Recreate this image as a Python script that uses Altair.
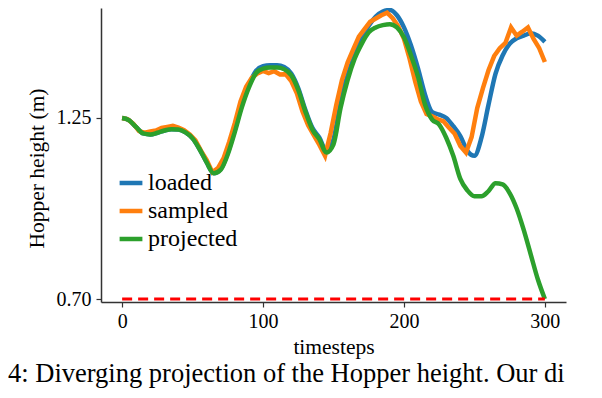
import altair as alt
import pandas as pd

# ---- data ----
T5 = list(range(0, 301, 5))
loaded = [1.250, 1.243, 1.222, 1.203, 1.200, 1.205, 1.212, 1.216, 1.215, 1.206,
          1.188, 1.155, 1.115, 1.082, 1.095, 1.145, 1.215, 1.290, 1.350, 1.393,
          1.407, 1.410, 1.410, 1.405, 1.385, 1.340, 1.275, 1.220, 1.190, 1.150,
          1.185, 1.300, 1.380, 1.440, 1.490, 1.530, 1.558, 1.573, 1.578, 1.562,
          1.525, 1.470, 1.400, 1.320, 1.268, 1.260, 1.250, 1.225, 1.195, 1.150,
          1.135, 1.190, 1.290, 1.385, 1.440, 1.475, 1.492, 1.500, 1.507, 1.500,
          1.481]
projected = [1.250, 1.243, 1.222, 1.203, 1.200, 1.205, 1.212, 1.216, 1.215, 1.206,
             1.188, 1.155, 1.115, 1.082, 1.093, 1.140, 1.208, 1.283, 1.343, 1.386,
             1.400, 1.403, 1.403, 1.398, 1.380, 1.335, 1.270, 1.215, 1.185, 1.145,
             1.170, 1.280, 1.365, 1.430, 1.475, 1.510, 1.525, 1.532, 1.535, 1.525,
             1.495, 1.440, 1.375, 1.290, 1.245, 1.230, 1.190, 1.135, 1.065, 1.030,
             1.012, 1.012, 1.028, 1.052, 1.048, 1.022, 0.975, 0.910, 0.835, 0.760,
             0.700]
T4 = list(range(0, 301, 4))
sampled = [1.250, 1.246, 1.232, 1.210, 1.205, 1.209, 1.212, 1.220, 1.223, 1.226,
           1.221, 1.213, 1.200, 1.182, 1.150, 1.122, 1.085, 1.098, 1.128, 1.178,
           1.235, 1.300, 1.345, 1.372, 1.385, 1.393, 1.386, 1.392, 1.382, 1.383,
           1.362, 1.325, 1.270, 1.228, 1.198, 1.168, 1.135, 1.205, 1.290, 1.365,
           1.418, 1.458, 1.497, 1.520, 1.542, 1.552, 1.562, 1.570, 1.553, 1.528,
           1.490, 1.430, 1.360, 1.300, 1.262, 1.255, 1.246, 1.240, 1.220, 1.202,
           1.165, 1.145, 1.192, 1.280, 1.340, 1.395, 1.438, 1.462, 1.478, 1.525,
           1.500, 1.512, 1.525, 1.490, 1.462, 1.420]
series_names = ["loaded", "sampled", "projected"]
series_colors = ["#1f77b4", "#ff7f0e", "#2ca02c"]
limit_value = 0.70
limit_span = [0, 300]
y_ticks = [0.70, 1.25]
x_ticks = [0, 100, 200, 300]
caption = "4: Diverging projection of the Hopper height. Our di"

FONT = "Liberation Serif"

df_l = pd.DataFrame({"t": T5, "v": loaded, "series": "loaded"})
df_p = pd.DataFrame({"t": T5, "v": projected, "series": "projected"})
df_s = pd.DataFrame({"t": T4[:len(sampled)], "v": sampled, "series": "sampled"})
df_lim = pd.DataFrame({"t0": [limit_span[0]], "t1": [limit_span[1]], "v": [limit_value]})

xs = alt.Scale(domain=[-15, 315], nice=False, zero=False)
ys = alt.Scale(domain=[0.691, 1.584], nice=False, zero=False)
cs = alt.Scale(domain=series_names, range=series_colors)

xax = alt.Axis(values=x_ticks, title="timesteps", grid=False, tickSize=5,
               labelPadding=4, titleBaseline="alphabetic", titleY=51,
               titleFontWeight="normal")
yax = alt.Axis(values=y_ticks, format=".2f", title="Hopper height (m)", grid=False,
               tickSize=5, labelPadding=5, titleBaseline="alphabetic",
               titleX=-58, titleY=160, titleFontWeight="normal")
leg = alt.Legend(orient="none", legendX=16, legendY=161, title=None,
                 symbolType="stroke", symbolStrokeWidth=4.5, symbolSize=520,
                 labelFont=FONT, labelFontSize=24, labelColor="black",
                 rowPadding=2, labelOffset=3)


def line(df, interp):
    return alt.Chart(df).mark_line(strokeWidth=4.5, interpolate=interp, clip=False).encode(
        x=alt.X("t:Q", scale=xs, axis=xax),
        y=alt.Y("v:Q", scale=ys, axis=yax),
        color=alt.Color("series:N", scale=cs, legend=leg),
    )


limit = alt.Chart(df_lim).mark_rule(color="#ff0000", strokeWidth=3, strokeDash=[10, 6]).encode(
    x=alt.X("t0:Q", scale=xs), x2="t1:Q", y=alt.Y("v:Q", scale=ys)
)

cap = alt.Chart(pd.DataFrame({"text": [caption]})).mark_text(
    align="left", baseline="alphabetic", font=FONT, fontSize=26.5, color="black"
).encode(x=alt.value(-93), y=alt.value(374), text="text:N")

chart = alt.layer(
    line(df_l, "monotone"), line(df_s, "linear"), line(df_p, "monotone"), limit, cap
).properties(
    width=465, height=294,
    autosize=alt.AutoSizeParams(type="none"),
    padding={"left": 93, "top": 0, "right": 28, "bottom": 86},
).configure_view(stroke=None).configure_axis(
    labelFont=FONT, titleFont=FONT, labelFontSize=20, titleFontSize=21.5,
    labelColor="black", titleColor="black", domainColor="#333333", domainWidth=1.5,
    tickColor="#333333", tickWidth=1.2,
)

chart.save("out.html", embed_options={"renderer": "svg", "actions": False})
